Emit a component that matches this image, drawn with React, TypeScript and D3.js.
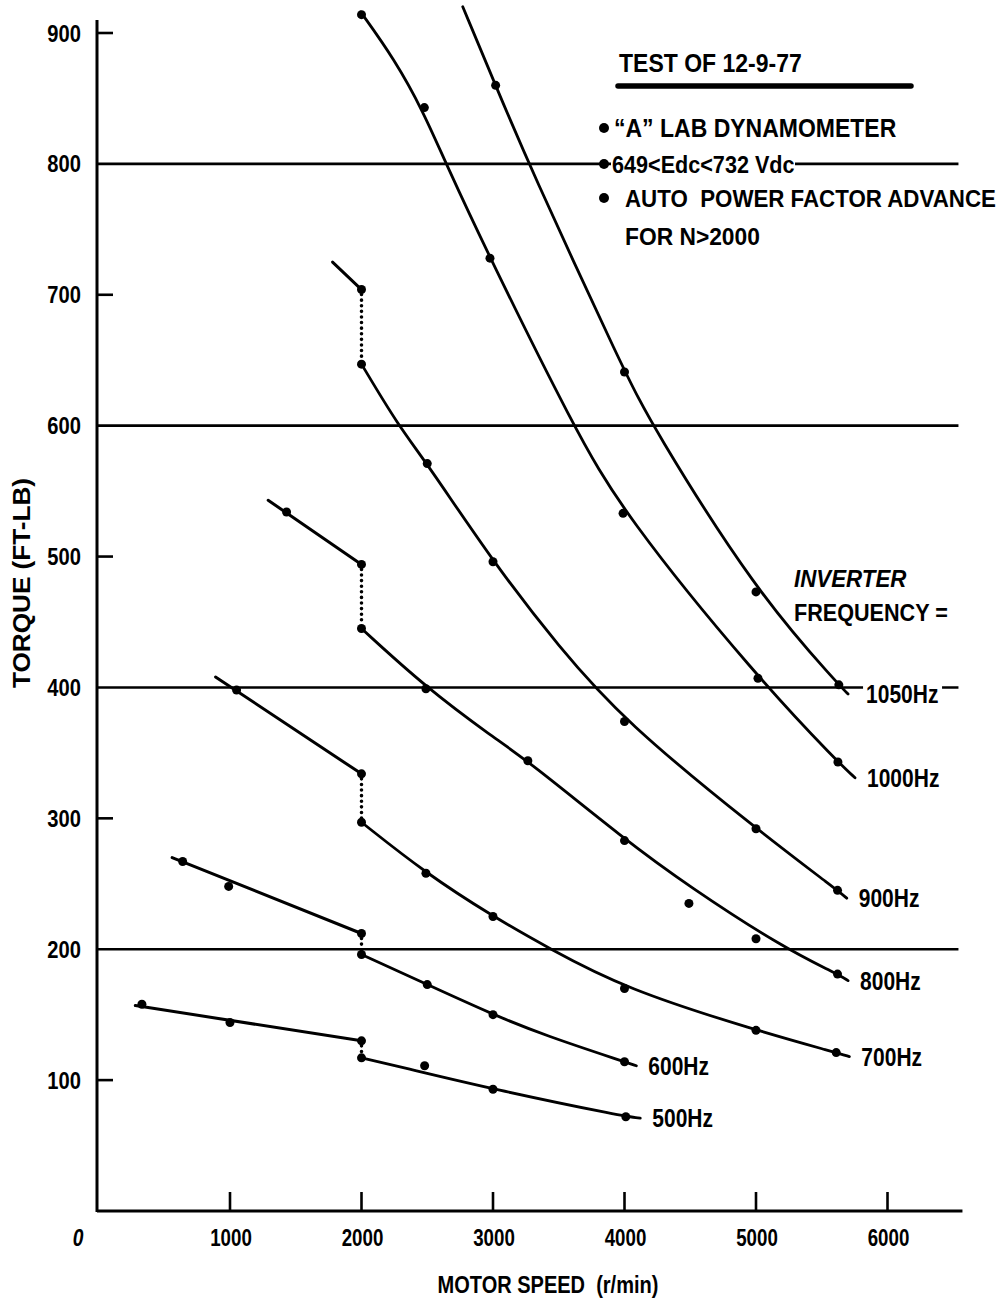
import React from "react";
import * as d3 from "d3";

type P = [number, number];

// ---- axes ----
const speedTicks = [1000, 2000, 3000, 4000, 5000, 6000];
const torqueGridlines = [200, 400, 600, 800];
const torqueMinorTicks = [100, 300, 500, 700, 900];
const torqueLabels = [100, 200, 300, 400, 500, 600, 700, 800, 900];
const speedMax = 6570;
const torqueTop = 910;

// ---- series (speed r/min, torque ft-lb) ----
const hz500Low: P[] = [[280, 157], [2000, 130]];
const hz500High: P[] = [[2000, 117], [2300, 110], [3000, 93], [4010, 72], [4120, 71]];
const hz500Markers: P[] = [[330, 158], [1000, 144], [2000, 130], [2000, 117], [2480, 111], [3000, 93], [4010, 72]];

const hz600Low: P[] = [[560, 270], [2000, 212]];
const hz600High: P[] = [[2000, 196], [2500, 173], [3000, 150], [3400, 134], [4000, 114], [4090, 111]];
const hz600Markers: P[] = [[640, 267], [990, 248], [2000, 212], [2000, 196], [2500, 173], [3000, 150], [4000, 114]];

const hz700Low: P[] = [[890, 408], [2000, 334]];
const hz700High: P[] = [[2000, 297], [2490, 258], [3000, 225], [3420, 201], [4000, 170], [5000, 138], [5610, 121], [5710, 118]];
const hz700Markers: P[] = [[1050, 398], [2000, 334], [2000, 297], [2490, 258], [3000, 225], [4000, 170], [5000, 138], [5610, 121]];

const hz800Low: P[] = [[1290, 543], [2000, 494]];
const hz800High: P[] = [[2000, 445], [2490, 400], [3000, 362], [3265, 344], [4000, 284], [4490, 248], [5210, 201], [5620, 181], [5700, 176]];
const hz800Markers: P[] = [[1430, 534], [2000, 494], [2000, 445], [2490, 399], [3265, 344], [4000, 283], [4490, 235], [5000, 208], [5620, 181]];

const hz900Low: P[] = [[1780, 725], [2000, 704]];
const hz900High: P[] = [[2000, 647], [2280, 600], [2500, 571], [3000, 496], [3500, 431], [4000, 374], [5000, 292], [5620, 245], [5690, 239]];
const hz900Markers: P[] = [[2000, 704], [2000, 647], [2500, 571], [3000, 496], [4000, 374], [5000, 292], [5620, 245]];

const hz1000High: P[] = [[1994, 916], [2250, 880], [2470, 840], [2643, 800], [2977, 728], [3609, 600], [3989, 533], [5015, 407], [5623, 343], [5753, 331]];
const hz1000Markers: P[] = [[2000, 914], [2478, 843], [2977, 728], [3989, 533], [5015, 407], [5623, 343]];

const hz1050High: P[] = [[2770, 920], [3020, 860], [3270, 800], [4000, 641], [4210, 600], [5000, 473], [5630, 402], [5700, 395]];
const hz1050Markers: P[] = [[3020, 860], [4000, 641], [5000, 473], [5630, 402]];

const series = [
  { label: "500Hz", low: hz500Low, high: hz500High, markers: hz500Markers },
  { label: "600Hz", low: hz600Low, high: hz600High, markers: hz600Markers },
  { label: "700Hz", low: hz700Low, high: hz700High, markers: hz700Markers },
  { label: "800Hz", low: hz800Low, high: hz800High, markers: hz800Markers },
  { label: "900Hz", low: hz900Low, high: hz900High, markers: hz900Markers },
  { label: "1000Hz", low: null as P[] | null, high: hz1000High, markers: hz1000Markers },
  { label: "1050Hz", low: null as P[] | null, high: hz1050High, markers: hz1050Markers },
];

const legendTitle = "TEST OF 12-9-77";
const legendRows = ["\u201CA\u201D LAB DYNAMOMETER", "649<Edc<732 Vdc", "AUTO  POWER FACTOR ADVANCE", "FOR N>2000"];
const noteLines = ["INVERTER", "FREQUENCY ="];
const xTitle = "MOTOR SPEED  (r/min)";
const yTitle = "TORQUE (FT-LB)";

const W = 999;
const H = 1305;
const x = d3.scaleLinear().domain([0, 6000]).range([98.5, 887.5]);
const y = d3.scaleLinear().domain([0, 900]).range([1211, 33]);

const SANS = '"Liberation Sans", Arial, sans-serif';

const straight = d3.line<P>().x((d) => x(d[0])).y((d) => y(d[1]));
const smooth = d3
  .line<P>()
  .x((d) => x(d[0]))
  .y((d) => y(d[1]))
  .curve(d3.curveBasis);

function CText(props: {
  x: number;
  y: number;
  sx?: number;
  size: number;
  anchor?: "start" | "middle" | "end";
  italic?: boolean;
  children: React.ReactNode;
}) {
  const { x: tx, y: ty, sx = 1, size, anchor = "start", italic = false, children } = props;
  return (
    <text
      transform={`translate(${tx},${ty}) scale(${sx},1)`}
      textAnchor={anchor}
      fontFamily={SANS}
      fontWeight="bold"
      fontStyle={italic ? "italic" : "normal"}
      fontSize={size}
      style={{ whiteSpace: "pre" }}
    >
      {children}
    </text>
  );
}

export default function App() {
  const x0 = x(0) - 1.5;
  const xEnd = x(speedMax);
  const y0 = y(0);
  return (
    <svg
      width={W}
      height={H}
      viewBox={`0 0 ${W} ${H}`}
      style={{ position: "absolute", left: 0, top: 0, background: "#fff" }}
    >
      <rect x={0} y={0} width={W} height={H} fill="#fff" />
      {/* gridlines */}
      {torqueGridlines.map((t) => (
        <line key={"g" + t} x1={x0} x2={xEnd - 4} y1={y(t)} y2={y(t)} stroke="#000" strokeWidth={2.6} />
      ))}
      {/* axes */}
      <line x1={x0} x2={x0} y1={y(torqueTop)} y2={y0 + 1} stroke="#000" strokeWidth={3} />
      <line x1={x0} x2={xEnd} y1={y0} y2={y0} stroke="#000" strokeWidth={3} />
      {speedTicks.map((s) => (
        <line key={"xt" + s} x1={x(s)} x2={x(s)} y1={y0} y2={y0 - 19} stroke="#000" strokeWidth={2.6} />
      ))}
      {torqueMinorTicks.map((t) => (
        <line key={"yt" + t} x1={x0} x2={x0 + 16} y1={y(t)} y2={y(t)} stroke="#000" strokeWidth={2.6} />
      ))}
      {/* tick labels */}
      {torqueLabels.map((t) => (
        <CText key={"yl" + t} x={81} y={y(t) + 8.5} sx={0.84} size={24} anchor="end">
          {t}
        </CText>
      ))}
      {speedTicks.map((s) => (
        <CText key={"xl" + s} x={x(s) + 1} y={1246} sx={0.78} size={24} anchor="middle">
          {s}
        </CText>
      ))}
      <CText x={78} y={1246} sx={0.8} size={24} anchor="middle" italic>
        0
      </CText>
      {/* axis titles */}
      <CText x={548} y={1293} sx={0.87} size={23} anchor="middle">
        {xTitle}
      </CText>
      <text
        transform={`translate(30,${583}) rotate(-90)`}
        textAnchor="middle"
        fontFamily={SANS}
        fontWeight="bold"
        fontSize={23}
        textLength={210}
        lengthAdjust="spacingAndGlyphs"
      >
        {yTitle}
      </text>

      {/* series */}
      {series.map((s) => {
        const end = s.high[s.high.length - 1];
        const lx = x(end[0]) + (s.label === "1050Hz" ? 18 : 12);
        return (
          <g key={s.label}>
            {s.low && <path d={straight(s.low) || ""} fill="none" stroke="#000" strokeWidth={3} strokeLinecap="round" />}
            {s.low && (
              <line
                x1={x(s.low[s.low.length - 1][0])}
                x2={x(s.high[0][0])}
                y1={y(s.low[s.low.length - 1][1]) + 5}
                y2={y(s.high[0][1]) - 4}
                stroke="#000"
                strokeWidth={3.6}
                strokeDasharray="0 5.6"
                strokeLinecap="round"
              />
            )}
            <path d={smooth(s.high) || ""} fill="none" stroke="#000" strokeWidth={2.8} strokeLinecap="round" />
            {s.markers.map((m, i) => (
              <circle key={i} cx={x(m[0])} cy={y(m[1])} r={4.5} fill="#000" />
            ))}
            {s.label === "1050Hz" && (
              <rect x={lx - 3} y={y(end[1]) - 12} width={79} height={26} fill="#fff" />
            )}
            <CText x={lx} y={y(end[1]) + 9} sx={0.84} size={25}>
              {s.label}
            </CText>
          </g>
        );
      })}

      {/* legend */}
      <CText x={619} y={72} sx={0.92} size={25}>
        {legendTitle}
      </CText>
      <line x1={618} x2={911} y1={86} y2={86} stroke="#000" strokeWidth={5.5} strokeLinecap="round" />
      <rect x={611} y={150} width={184} height={28} fill="#fff" />
      {[128, 164, 198].map((cy, i) => (
        <circle key={"b" + i} cx={604} cy={cy} r={5} fill="#000" />
      ))}
      <CText x={614} y={137} sx={0.92} size={25}>
        {legendRows[0]}
      </CText>
      <CText x={612} y={173} sx={0.9} size={24}>
        {legendRows[1]}
      </CText>
      <CText x={625} y={207} sx={0.93} size={24}>
        {legendRows[2]}
      </CText>
      <CText x={625} y={245} sx={0.95} size={24}>
        {legendRows[3]}
      </CText>
      <CText x={794} y={587} sx={0.93} size={24} italic>
        {noteLines[0]}
      </CText>
      <CText x={794} y={621} sx={0.9} size={24}>
        {noteLines[1]}
      </CText>
    </svg>
  );
}
